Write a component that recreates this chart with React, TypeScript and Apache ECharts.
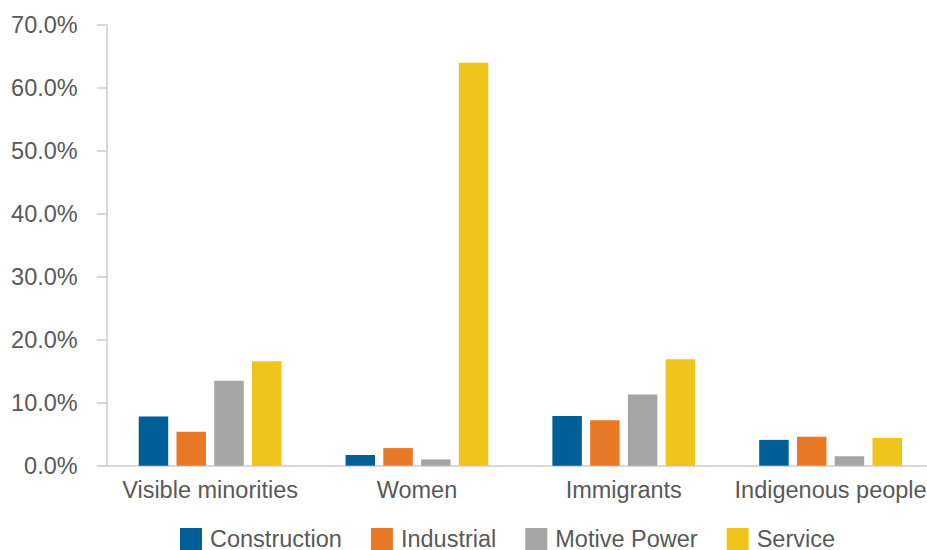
import React, { useEffect, useRef } from "react";
import * as echarts from "echarts";

const categories = ["Visible minorities", "Women", "Immigrants", "Indigenous people"];
const seriesNames = ["Construction", "Industrial", "Motive Power", "Service"];
const construction = [7.8, 1.7, 7.9, 4.1];
const industrial = [5.4, 2.8, 7.2, 4.6];
const motivePower = [13.5, 1.0, 11.3, 1.5];
const service = [16.6, 64.0, 16.9, 4.4];
const colors = ["#005f96", "#e87a27", "#a5a5a5", "#efc41c"];
const yTicks = { min: 0, max: 70, interval: 10 };

const FONT = "'Liberation Sans', Arial, sans-serif";
const TEXT = "#595959";
const AXIS = "#d9d9d9";

export default function App() {
  const ref = useRef<HTMLDivElement>(null);
  useEffect(() => {
    if (!ref.current) return;
    const chart = echarts.init(ref.current, undefined, { renderer: "svg" });
    const values = [construction, industrial, motivePower, service];
    chart.setOption({
      animation: false,
      textStyle: { fontFamily: FONT },
      grid: { left: 106.7, right: 0, top: 25, bottom: 84.3 },
      legend: {
        left: 180,
        top: 527,
        padding: 0,
        itemWidth: 22,
        itemHeight: 22,
        itemGap: 29,
        icon: "rect",
        textStyle: { fontSize: 23.5, lineHeight: 22, color: TEXT, fontFamily: FONT, padding: [0, 0, 0, 3] },
        data: seriesNames,
      },
      xAxis: {
        type: "category",
        data: categories,
        axisLine: { lineStyle: { color: AXIS, width: 2 } },
        axisTick: { show: false },
        axisLabel: { interval: 0, fontSize: 23.5, color: TEXT, fontFamily: FONT, margin: 12 },
      },
      yAxis: {
        type: "value",
        min: yTicks.min,
        max: yTicks.max,
        interval: yTicks.interval,
        splitLine: { show: false },
        axisLine: { show: true, lineStyle: { color: AXIS, width: 2 } },
        axisTick: { show: true, length: 10, lineStyle: { color: AXIS, width: 2 } },
        axisLabel: {
          fontSize: 23.5,
          color: TEXT,
          fontFamily: FONT,
          margin: 29,
          formatter: (v: number) => v.toFixed(1) + "%",
        },
      },
      series: seriesNames.map((name, i) => ({
        name,
        type: "bar",
        data: values[i],
        barWidth: 29.5,
        barGap: "28%",
        itemStyle: { color: colors[i] },
      })),
    });
    return () => chart.dispose();
  }, []);
  return (
    <div style={{ position: "absolute", left: 0, top: 0, width: 927, height: 550, overflow: "hidden" }}>
      <div ref={ref} style={{ width: 934, height: 550 }} />
    </div>
  );
}
